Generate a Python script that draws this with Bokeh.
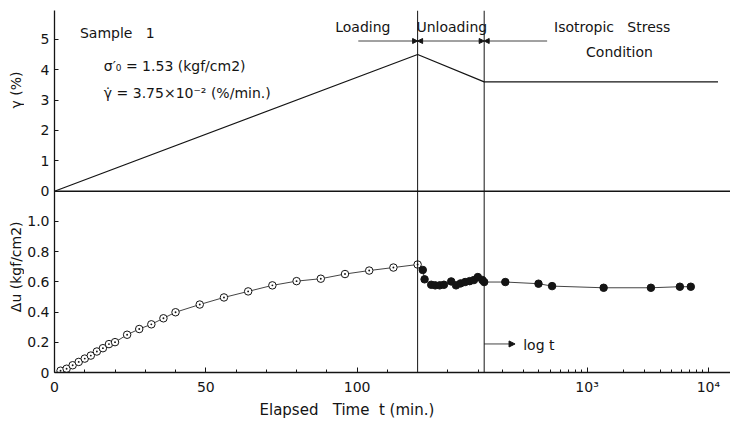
import numpy as np
from bokeh.plotting import figure
from bokeh.layouts import row
from bokeh.models import (Range1d, FixedTicker, CustomJSTickFormatter, Span, Label, Title,
                          Arrow, NormalHead, ColumnDataSource)
from bokeh.core.properties import value
from bokeh.embed import file_html
from bokeh.resources import INLINE

# ---------------- data ----------------
gamma_t = [0, 120, 142, 12000]
gamma_v = [0, 4.5, 3.6, 3.6]

load_t = [2, 4, 6, 8, 10, 12, 14, 16, 18, 20, 24, 28, 32, 36, 40, 48, 56, 64,
          72, 80, 88, 96, 104, 112, 120]
load_du = [0.012, 0.025, 0.048, 0.070, 0.092, 0.112, 0.139, 0.161, 0.188, 0.201,
           0.250, 0.288, 0.319, 0.359, 0.399, 0.450, 0.497, 0.537, 0.577, 0.605,
           0.621, 0.652, 0.675, 0.695, 0.715]

unload_t = [121.7, 122.3, 124.5, 125.8, 127.3, 128.7, 131.1, 132.7, 134.2, 135.7,
            137.2, 138.6, 139.9, 141.4, 142.0]
unload_du = [0.679, 0.617, 0.581, 0.577, 0.577, 0.581, 0.603, 0.577, 0.590, 0.599,
             0.605, 0.612, 0.632, 0.612, 0.599]

iso_t = [212, 398, 515, 1370, 3360, 5820, 7160]
iso_du = [0.599, 0.588, 0.572, 0.561, 0.561, 0.568, 0.568]

x_major_t = [0, 50, 100, 1000, 10000]
x_major_labels = ["0", "50", "100", "10³", "10⁴"]
x_minor_t = ([10, 20, 30, 40, 60, 70, 80, 90, 110, 130, 140]
             + [200, 300, 400, 500, 600, 700, 800, 900]
             + [2000, 3000, 4000, 5000, 6000, 7000, 8000, 9000])

du_ticks = [0, 0.2, 0.4, 0.6, 0.8, 1.0]
du_labels = ["0", "0.2", "0.4", "0.6", "0.8", "1.0"]
gamma_ticks = [0, 1, 2, 3, 4, 5]
gamma_labels = ["0", "1", "2", "3", "4", "5"]

# ---------------- composite time scale: linear, then log ----------------
T_SWITCH = 142.0      # end of unloading: linear part ends here
DECADE = 40.1         # width of one decade in linear-minute units


def tx(t):
    t = np.asarray(t, dtype=float)
    lg = np.log10(np.maximum(t, 1e-9))
    return np.where(t <= T_SWITCH, t, T_SWITCH + (lg - np.log10(T_SWITCH)) * DECADE)


X_END = 223.4
DU_END = 2.397
Y_SPLIT = 1.2         # top of the Δu panel = γ zero line
G_PER_DU = 4.97

FONT = "DejaVu Sans"
INK = "#141414"
NB = "\u00a0"

yr = Range1d(0, DU_END)

p = figure(width=706, height=424, output_backend="svg", toolbar_location=None,
           x_range=Range1d(0, X_END), y_range=yr,
           min_border_left=29, min_border_right=0, min_border_top=10,
           min_border_bottom=52)
p.extra_y_ranges = {"gamma": Range1d(-Y_SPLIT * G_PER_DU, (DU_END - Y_SPLIT) * G_PER_DU)}
p.outline_line_color = None
p.xgrid.visible = False
p.ygrid.visible = False
p.background_fill_color = "white"
p.border_fill_color = "white"

# ---- x axis
xpos = [float(v) for v in tx(x_major_t)]
p.xaxis.ticker = FixedTicker(ticks=xpos, minor_ticks=[float(v) for v in tx(x_minor_t)])
p.xaxis.formatter = CustomJSTickFormatter(args=dict(pos=xpos, labs=x_major_labels), code="""
    let b = 0;
    for (let i = 0; i < pos.length; i++) { if (Math.abs(pos[i] - tick) < Math.abs(pos[b] - tick)) b = i; }
    return labs[b];
""")
p.xaxis.major_tick_in = 5
p.xaxis.major_tick_out = 0
p.xaxis.minor_tick_in = 3
p.xaxis.minor_tick_out = 0
p.xaxis.axis_line_width = 1.3
p.xaxis.axis_line_color = INK
p.xaxis.major_tick_line_color = INK
p.xaxis.minor_tick_line_color = INK
p.xaxis.major_label_text_font = FONT
p.xaxis.major_label_text_font_size = "14px"
p.xaxis.major_label_text_color = INK
p.xaxis.major_label_standoff = 6

# ---- y axis (Δu panel below, γ panel above, one axis line)
ypos = list(du_ticks) + [Y_SPLIT + g / G_PER_DU for g in gamma_ticks]
ylabs = list(du_labels) + list(gamma_labels)
p.yaxis.ticker = FixedTicker(ticks=ypos, minor_ticks=[])
p.yaxis.formatter = CustomJSTickFormatter(args=dict(pos=ypos, labs=ylabs), code="""
    let b = 0;
    for (let i = 0; i < pos.length; i++) { if (Math.abs(pos[i] - tick) < Math.abs(pos[b] - tick)) b = i; }
    return labs[b];
""")
p.yaxis.major_tick_in = 4
p.yaxis.major_tick_out = 0
p.yaxis.minor_tick_in = 0
p.yaxis.minor_tick_out = 0
p.yaxis.axis_line_width = 1.3
p.yaxis.axis_line_color = INK
p.yaxis.major_tick_line_color = INK
p.yaxis.major_label_text_font = FONT
p.yaxis.major_label_text_font_size = "14px"
p.yaxis.major_label_text_color = INK
p.yaxis.major_label_standoff = 5

# x-axis title, placed left of centre as in the reference
p.add_layout(Title(text=f"Elapsed{NB}{NB}{NB}Time{NB}{NB}t{NB}(min.)", align="left", offset=205,
                   text_font=FONT, text_font_size="15px", text_font_style="normal",
                   text_color=INK, standoff=2), "below")

# ---- panel separator and phase boundaries
p.add_layout(Span(location=Y_SPLIT, dimension="width", line_color=INK, line_width=1.3))
for tb in (120, T_SWITCH):
    p.add_layout(Span(location=float(tx(tb)), dimension="height", line_color=INK, line_width=1))

# ---- γ curve
gsrc = ColumnDataSource(dict(x=tx(gamma_t), y=gamma_v))
p.line("x", "y", source=gsrc, y_range_name="gamma", line_color=INK, line_width=1.2)

# ---- Δu curve
all_t = load_t + unload_t + iso_t
all_du = load_du + unload_du + iso_du
p.line(tx(all_t), all_du, line_color=INK, line_width=0.8)
p.scatter(tx(load_t), load_du, marker="circle_dot", size=7.5, fill_color="white",
          line_color=INK, line_width=1)
p.scatter(tx(unload_t + iso_t), unload_du + iso_du, marker="circle", size=7.5,
          fill_color=INK, line_color=INK)


# ---- texts
def lab(x, y, text, align="left"):
    p.add_layout(Label(x=x, y=y, text=text, text_font=FONT, text_font_size="14px",
                       text_color=INK, text_align=align, text_baseline="middle"))


lab(8.4, 2.248, f"Sample{NB}{NB}{NB}1")
lab(16.3, 2.03, "σ′₀ = 1.53 (kgf/cm2)")
lab(16.3, 1.851, "γ̇ = 3.75×10⁻² (%/min.)")
lab(101.9, 2.288, "Loading", align="center")
lab(131.3, 2.288, "Unloading", align="center")
lab(184.3, 2.288, f"Isotropic{NB}{NB}{NB}Stress", align="center")
lab(186.7, 2.122, "Condition", align="center")
lab(154.9, 0.182, "log t")

# phase arrows
ya = 2.195
head = dict(size=5, fill_color=INK, line_color=INK)
p.add_layout(Arrow(x_start=100.4, y_start=ya, x_end=120, y_end=ya, line_width=0.8,
                   line_color=INK, end=NormalHead(**head)))
p.add_layout(Arrow(x_start=120, y_start=ya, x_end=float(tx(T_SWITCH)), y_end=ya, line_width=0.8,
                   line_color=INK, start=NormalHead(**head), end=NormalHead(**head)))
p.add_layout(Arrow(x_start=float(tx(T_SWITCH)), y_start=ya, x_end=162.8, y_end=ya, line_width=0.8,
                   line_color=INK, start=NormalHead(**head), end=None))
p.add_layout(Arrow(x_start=float(tx(T_SWITCH)), y_start=0.189, x_end=152.2, y_end=0.189,
                   line_width=0.8, line_color=INK,
                   end=NormalHead(size=6, fill_color=INK, line_color=INK)))

# ---- narrow strip on the left holding the two rotated y-axis titles
s = figure(width=24, height=424, output_backend="svg", toolbar_location=None,
           x_range=Range1d(0, 24), y_range=yr, x_axis_type=None, y_axis_type=None,
           min_border_left=0, min_border_right=0, min_border_top=10, min_border_bottom=52)
s.outline_line_color = None
s.background_fill_color = "white"
s.border_fill_color = "white"
s.xgrid.visible = False
s.ygrid.visible = False
ytitle_src = ColumnDataSource(dict(x=[15, 15], y=[1.87, 0.70],
                                   t=["γ (%)", "Δu (kgf/cm2)"]))
s.text("x", "y", text="t", source=ytitle_src, angle=np.pi / 2, text_align="center",
       text_baseline="middle", text_font=value(FONT), text_font_size="14px",
       text_color=INK)

layout = row(s, p, spacing=0)
open("out.html", "w").write(file_html(layout, INLINE))
